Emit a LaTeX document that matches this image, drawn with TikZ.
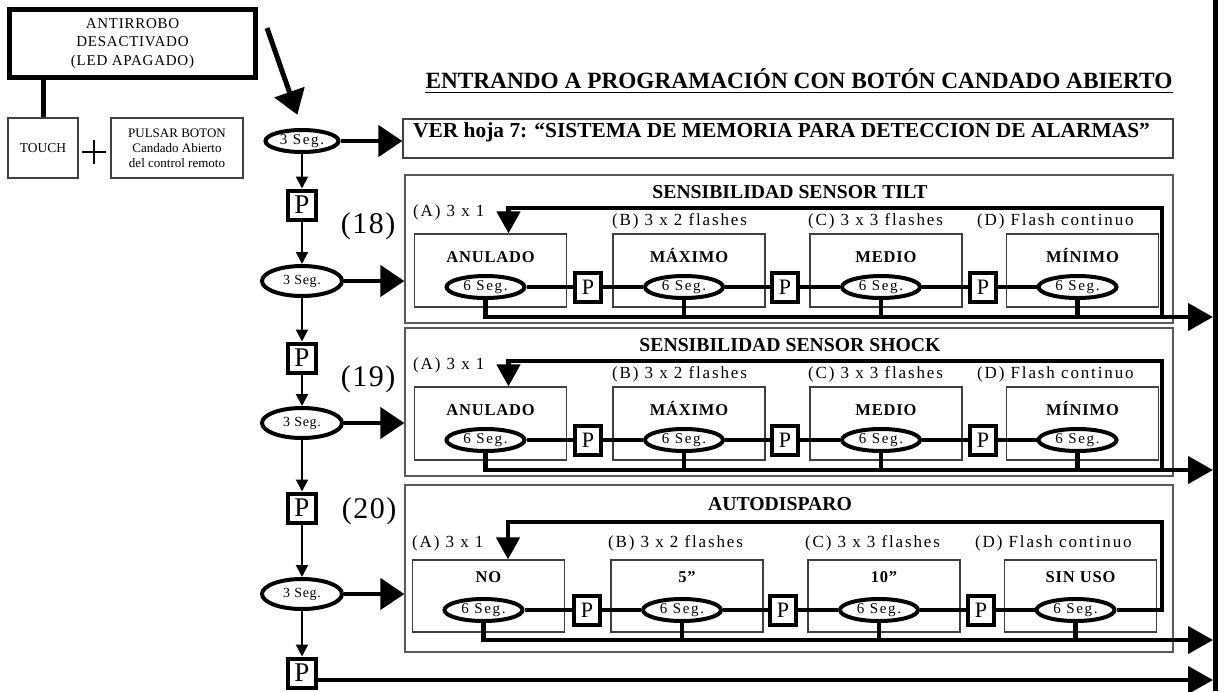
\documentclass[tikz,border=0pt]{standalone}
\usepackage{fontspec}
\setmainfont{Liberation Serif}
\newfontfamily\trk[LetterSpace=11]{Liberation Serif}
\newfontfamily\trkm[LetterSpace=5]{Liberation Serif}
\usetikzlibrary{arrows.meta,shapes.geometric}
\tikzset{
  fat/.style={line width=4.5pt},
  thinbox/.style={draw=black!75,line width=1.2pt,inner sep=0pt},
  secbox/.style={draw=black!65,line width=1.3pt,minimum width=768pt,inner sep=0pt},
  ibox/.style={thinbox,minimum width=152pt,minimum height=73pt},
  ell/.style={ellipse,draw,line width=4pt,inner sep=0pt},
  sixell/.style={ell,minimum width=78pt,minimum height=22pt,font=\trk\fontsize{15}{15}\selectfont},
  threell/.style={ell,minimum width=80pt,minimum height=30pt,font=\trkm\fontsize{14}{14}\selectfont},
  pbox/.style={draw,line width=4pt,inner sep=0pt,minimum width=26pt,minimum height=29pt,font=\fontsize{22}{22}\selectfont},
  pboxl/.style={draw,line width=4pt,inner sep=0pt,minimum width=28pt,minimum height=29pt,font=\fontsize{27}{27}\selectfont},
  sectitle/.style={anchor=base,inner sep=0pt,font=\bfseries\fontsize{19.7}{20}\selectfont},
  btitle/.style={anchor=base,inner sep=0pt,font=\trkm\bfseries\fontsize{16.5}{17}\selectfont},
  lab/.style={anchor=base west,inner sep=0pt,font=\trk\fontsize{17}{17}\selectfont},
  num/.style={inner sep=0pt,font=\trkm\fontsize{30}{30}\selectfont},
  bigtip/.style={-{Triangle[length=24pt,width=31pt]}},
  coltip/.style={-{Triangle[length=25pt,width=27pt]}},
  looptip/.style={-{Triangle[length=22pt,width=23pt]}},
  smalltip/.style={line width=2pt,-{Triangle[length=12pt,width=12pt]}},
}
\begin{document}
\begin{tikzpicture}[x=1pt,y=-1pt]
\useasboundingbox (0,0) rectangle (1229,691);
\fill[white] (0,0) rectangle (1229,691);

% right bar
\coordinate (bt) at (1215,0);
\coordinate (bb) at (1215,691);
\draw[line width=5pt] (bt) -- (bb);

% top left
\node[draw,line width=5pt,minimum width=246pt,minimum height=68pt,align=center,inner sep=0pt,font=\trkm\fontsize{15}{18.5}\selectfont] (anti) at (132.5,43.5) {ANTIRROBO\\DESACTIVADO\\(LED APAGADO)};
\node[thinbox,minimum width=70pt,minimum height=60pt,font=\fontsize{13.5}{13.5}\selectfont] (touch) at (43,148) {TOUCH};
\node[thinbox,minimum width=132pt,minimum height=60pt,align=center,font=\fontsize{13}{15}\selectfont] (pulsar) at (177,148) {PULSAR BOTON\\Candado Abierto\\del control remoto};
\draw[line width=5pt] (touch.north |- anti.south) -- (touch.north);
\coordinate (plc) at (94,152);
\draw[line width=1.8pt] ([xshift=-12pt]plc) -- ([xshift=12pt]plc) ([yshift=-12pt]plc) -- ([yshift=12pt]plc);

% title
\node[anchor=base,inner sep=0pt,font=\bfseries\fontsize{23.3}{24}\selectfont] (title) at (799,88) {ENTRANDO A PROGRAMACIÓN CON BOTÓN CANDADO ABIERTO};
\draw[line width=1.8pt] ([yshift=-4.5pt]title.base west) -- ([yshift=-4.5pt]title.base east);

% VER box
\node[thinbox,minimum width=770pt,minimum height=39pt] (ver) at (788,138.5) {};
\node[anchor=base west,inner sep=0pt,font=\bfseries\fontsize{21.4}{22}\selectfont] (vert) at (413,137) {VER hoja 7: “SISTEMA DE MEMORIA PARA DETECCION DE ALARMAS”};

% left column
\coordinate (start) at (267,28);
\node[ell,minimum width=73pt,minimum height=22pt,font=\trk\fontsize{15}{15}\selectfont] (c0) at (302,141) {3 Seg.};
\draw[line width=5pt,bigtip,shorten >=14pt] (start) -- (c0.north);
\draw[fat,bigtip] (c0.east) -- (c0.east -| ver.west);
\node[pboxl] (q1) at (302,205) {P};
\node[threell] (c1) at (302,281) {3 Seg.};
\node[pboxl] (q2) at (302,358) {P};
\node[threell] (c2) at (302,423) {3 Seg.};
\node[pboxl] (q3) at (302,508) {P};
\node[threell] (c3) at (302,594) {3 Seg.};
\node[pboxl] (q4) at (302,673) {P};
\draw[smalltip] (c0) -- (q1);
\draw[smalltip] (q1) -- (c1);
\draw[smalltip] (c1) -- (q2);
\draw[smalltip] (q2) -- (c2);
\draw[smalltip] (c2) -- (q3);
\draw[smalltip] (q3) -- (c3);
\draw[smalltip] (c3) -- (q4);
\coordinate (r4) at (1213,680);
\draw[fat,coltip] (q4.east |- r4) -- (r4);

% sections 1 and 2
\foreach \s/\dy/\ttl/\num in {1/0/TILT/18,2/153/SHOCK/19}{
  \node[secbox,minimum height=148pt] (sec\s) at (789,249+\dy) {};
  \node[sectitle] (t\s) at (790,198+\dy) {SENSIBILIDAD SENSOR \ttl};
  \node[num] (n\s) at (368,226.5+\dy) {(\num)};
  \node[lab] (la\s) at (413,216+\dy) {(A) 3 x 1};
  \node[lab] (lb\s) at (612,225+\dy) {(B) 3 x 2 flashes};
  \node[lab] (lc\s) at (808,225+\dy) {(C) 3 x 3 flashes};
  \node[lab] (ld\s) at (977,225+\dy) {(D) Flash continuo};
  \foreach \c/\x/\nm in {A/490.5/ANULADO,B/689/MÁXIMO,C/886/MEDIO,D/1082.5/MÍNIMO}{
    \node[ibox] (b\s\c) at (\x,270.5+\dy) {};
    \node[btitle] (bt\s\c) at (\x,262+\dy) {\nm};
    \node[sixell] (e\s\c) at (\x-5,287+\dy) {6 Seg.};
  }
  \node[pbox] (p\s-a) at (588,287+\dy) {P};
  \node[pbox] (p\s-b) at (785,287+\dy) {P};
  \node[pbox] (p\s-c) at (983,287+\dy) {P};
  \draw[fat] (e\s A) -- (p\s-a) -- (e\s B) -- (p\s-b) -- (e\s C) -- (p\s-c) -- (e\s D);
  \coordinate (r\s) at (1213,317+\dy);
  \draw[fat,coltip] (e\s A.south) |- (r\s);
  \foreach \c in {B,C,D} \draw[fat] (e\s\c.south) -- (e\s\c.south |- r\s);
  \coordinate (k\s) at (1162,317+\dy);
  \coordinate (l\s) at (1162,208+\dy);
  \draw[fat,looptip] (k\s) -- (l\s) -| ([xshift=18pt]b\s A.north);
  \draw[fat,bigtip] (c\s.east) -- (c\s.east -| sec\s.west);
}

% section 3
\node[secbox,minimum height=167pt] (sec3) at (789,568.5) {};
\node[sectitle] (t3) at (780,510) {AUTODISPARO};
\node[num] (n3) at (369,511) {(20)};
\node[lab] (la3) at (412,547) {(A) 3 x 1};
\node[lab] (lb3) at (608,547) {(B) 3 x 2 flashes};
\node[lab] (lc3) at (805,547) {(C) 3 x 3 flashes};
\node[lab] (ld3) at (975,547) {(D) Flash continuo};
\foreach \c/\x/\nm in {A/488.5/NO,B/687/5”,C/884/10”,D/1080.5/SIN USO}{
  \node[ibox,minimum height=72pt] (b3\c) at (\x,596) {};
  \node[btitle] (bt3\c) at (\x,582) {\nm};
  \node[sixell] (e3\c) at (\x-5,610) {6 Seg.};
}
\node[pbox] (p3-a) at (587,610) {P};
\node[pbox] (p3-b) at (783,610) {P};
\node[pbox] (p3-c) at (981,610) {P};
\draw[fat] (e3A) -- (p3-a) -- (e3B) -- (p3-b) -- (e3C) -- (p3-c) -- (e3D);
\coordinate (r3) at (1213,640);
\draw[fat,coltip] (e3A.south) |- (r3);
\foreach \c in {B,C,D} \draw[fat] (e3\c.south) -- (e3\c.south |- r3);
\coordinate (l3) at (1162,522);
\draw[fat,looptip] (e3D.east) -| (l3) -| ([xshift=19.5pt]b3A.north);
\draw[fat,bigtip] (c3.east) -- (c3.east -| sec3.west);
\end{tikzpicture}
\end{document}
